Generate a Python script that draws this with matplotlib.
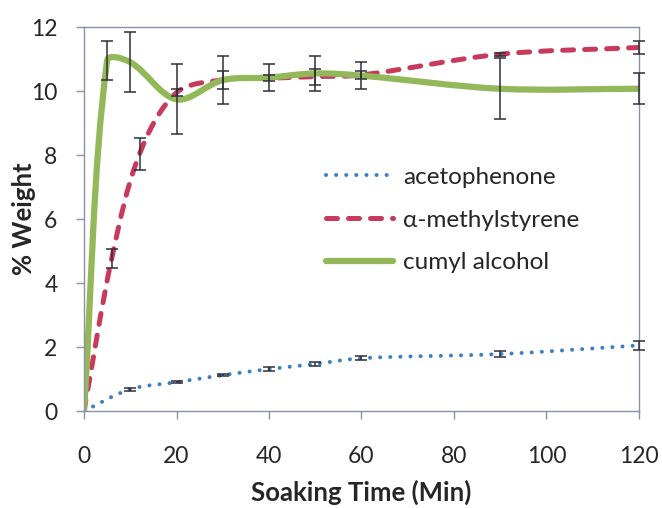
import numpy as np
import matplotlib
matplotlib.use("Agg")
import matplotlib.pyplot as plt
from matplotlib.path import Path
from matplotlib.patches import PathPatch
from matplotlib.lines import Line2D

# ---- data ----
aceto_t = [0, 10, 20, 30, 40, 50, 60, 90, 120]
aceto_y = [0, 0.68, 0.90, 1.12, 1.31, 1.47, 1.65, 1.78, 2.05]
aceto_e = [0, 0.04, 0.04, 0.03, 0.05, 0.05, 0.06, 0.08, 0.15]

ms_t = [0, 6, 12, 20, 30, 40, 50, 60, 90, 120]
ms_y = [0, 4.77, 8.03, 9.95, 10.35, 10.40, 10.45, 10.50, 11.15, 11.36]
ms_e = [0, 0.29, 0.49, 0.12, 0.28, 0.10, 0.25, 0.12, 0.05, 0.20]

cumyl_t = [0, 5, 10, 20, 30, 40, 50, 60, 90, 120]
cumyl_y = [0, 10.95, 10.90, 9.74, 10.34, 10.42, 10.55, 10.48, 10.07, 10.07]
cumyl_e = [0, 0.60, 0.93, 1.09, 0.76, 0.42, 0.55, 0.43, 0.95, 0.48]

labels = ["acetophenone", "\u03b1-methylstyrene", "cumyl alcohol"]
xticks = [0, 20, 40, 60, 80, 100, 120]
yticks = [0, 2, 4, 6, 8, 10, 12]

# ---- style ----
FONT = ["Lato", "DejaVu Sans"]
plt.rcParams["font.family"] = FONT
c_blue = "#3b7fc4"
c_red = "#c73a5b"
c_green = "#93b85a"
c_axis = "#8c8fa8"
c_err = "#2f2f3a"

fig = plt.figure(figsize=(6.62, 5.08), dpi=100)
ax = fig.add_axes([84 / 662, 1 - 411 / 508, 555 / 662, 384 / 508])
ax.set_xlim(0, 120)
ax.set_ylim(0, 12)


def smooth_path(xs, ys):
    """Excel-like smoothed bezier path through the data points (computed in display space)."""
    pts = ax.transData.transform(np.column_stack([xs, ys]))
    n = len(pts)
    verts = [pts[0]]
    codes = [Path.MOVETO]
    for i in range(n - 1):
        p1, p2 = pts[i], pts[i + 1]
        p0 = pts[i - 1] if i > 0 else p1
        p3 = pts[i + 2] if i + 2 < n else p2
        d01 = np.linalg.norm(p1 - p0)
        d12 = np.linalg.norm(p2 - p1)
        d23 = np.linalg.norm(p3 - p2)
        c1 = p1 + (p2 - p0) * d12 / (d01 + d12) / 3.0
        c2 = p2 - (p3 - p1) * d12 / (d12 + d23) / 3.0
        verts += [c1, c2, p2]
        codes += [Path.CURVE4] * 3
    return Path(ax.transData.inverted().transform(np.array(verts)), codes)


styles = [
    dict(color=c_blue, lw=2.9, linestyle=(0, (0.01, 2.5)), capstyle="round"),
    dict(color=c_red, lw=3.6, linestyle=(0, (2.2, 2.2)), capstyle="round"),
    dict(color=c_green, lw=4.5, linestyle="-", capstyle="round"),
]
series = [(aceto_t, aceto_y, aceto_e), (ms_t, ms_y, ms_e), (cumyl_t, cumyl_y, cumyl_e)]

handles = []
for (t, y, e), st, lab in zip(series, styles, labels):
    patch = PathPatch(smooth_path(t, y), fill=False, edgecolor=st["color"], lw=st["lw"],
                      linestyle=st["linestyle"], capstyle=st["capstyle"], joinstyle="round",
                      zorder=2)
    ax.add_patch(patch)
    h = Line2D([], [], color=st["color"], lw=st["lw"], linestyle=st["linestyle"],
               dash_capstyle=st["capstyle"], solid_capstyle=st["capstyle"])
    handles.append(h)

for (t, y, e) in series:
    t_ = np.array(t[1:]); y_ = np.array(y[1:]); e_ = np.array(e[1:])
    ax.errorbar(t_, y_, yerr=e_, fmt="none", ecolor=c_err, elinewidth=1.1,
                capsize=4.6, capthick=1.1, zorder=3, clip_on=False)

# ---- axes styling ----
for s in ax.spines.values():
    s.set_color(c_axis)
    s.set_linewidth(1.0)
ax.set_xticks(xticks)
ax.set_yticks(yticks)
ax.tick_params(axis="both", direction="out", length=6, width=1.0, color=c_axis,
               labelsize=16.5, labelcolor="#262626")
ax.tick_params(axis="y", pad=13)
ax.tick_params(axis="x", pad=19)
ax.tick_params(top=False, right=False)

ax.set_xlabel("Soaking Time (Min)", fontsize=18.5, fontweight="bold", color="#262626")
ax.xaxis.set_label_coords(0.5, (411 - 492) / 384)
ax.xaxis.label.set_va("center")
ax.set_ylabel("% Weight", fontsize=18.5, fontweight="bold", color="#262626")
ax.yaxis.set_label_coords((24 - 84) / 555, 0.5)
ax.yaxis.label.set_va("center")

leg = ax.legend(handles, labels, loc="center left",
                bbox_to_anchor=((326 - 84) / 555, (411 - 220) / 384),
                frameon=False, fontsize=17.5, handlelength=2.75, handletextpad=0.42,
                labelspacing=0.9, borderpad=0, borderaxespad=0)
for txt in leg.get_texts():
    txt.set_color("#262626")

fig.savefig("out.png", dpi=100)
